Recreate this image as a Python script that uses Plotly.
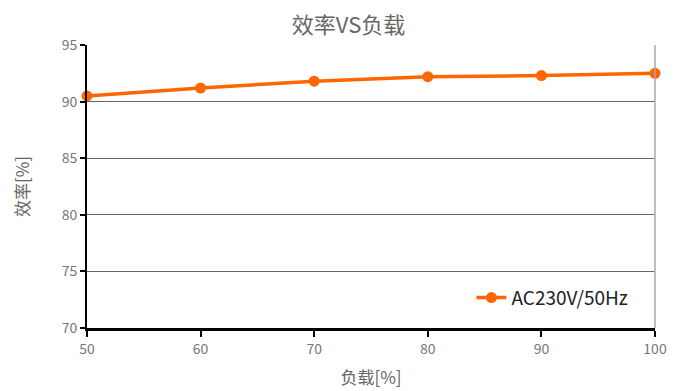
import plotly.graph_objects as go

load = [50, 60, 70, 80, 90, 100]
eff_230 = [90.5, 91.2, 91.8, 92.2, 92.3, 92.5]

orange = '#ff6600'
font = 'Noto Sans CJK SC'

fig = go.Figure()
fig.add_trace(go.Scatter(x=load, y=eff_230, mode='lines+markers', name='AC230V/50Hz',
                         line=dict(color=orange, width=3.5),
                         marker=dict(color=orange, size=11), cliponaxis=False))

fig.add_shape(type='line', xref='paper', yref='paper', x0=1, x1=1, y0=0, y1=1,
              line=dict(color='#aaaaaa', width=1.5))

fig.update_layout(
    width=681, height=391,
    margin=dict(l=79, r=34, t=37, b=71),
    plot_bgcolor='white', paper_bgcolor='white',
    font=dict(family=font, color='#666666'),
    title=dict(text='效率VS负载', x=0.5, xanchor='center', y=0.975, yanchor='top',
               font=dict(size=22, color='#666666')),
    xaxis=dict(range=[50, 100], tickvals=load, showgrid=False, zeroline=False,
               showline=True, linecolor='black', linewidth=2.5,
               ticks='outside', ticklen=6, tickwidth=2, tickcolor='black',
               tickfont=dict(size=14, color='#777777'),
               title=dict(text='负载[%]', font=dict(size=17, color='#666666'), standoff=16)),
    yaxis=dict(range=[70, 95], dtick=5, showgrid=True, gridcolor='#666666', gridwidth=1,
               zeroline=False, showline=True, linecolor='black', linewidth=2,
               ticks='outside', ticklen=5, tickwidth=2, tickcolor='black',
               tickfont=dict(size=14, color='#777777'),
               title=dict(text='效率[%]', font=dict(size=17, color='#666666'), standoff=28)),
    legend=dict(x=0.962, y=0.04, xanchor='right', yanchor='bottom',
                bgcolor='rgba(0,0,0,0)', font=dict(size=19, color='#222222')),
    showlegend=True,
)

fig.write_html('out.html')
